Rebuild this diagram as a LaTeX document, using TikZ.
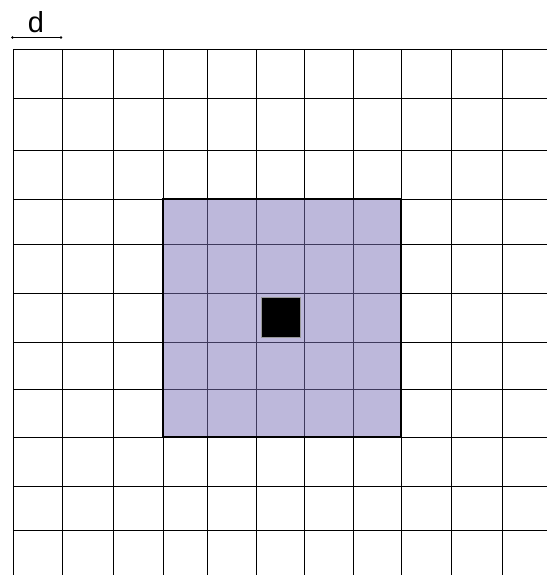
\documentclass[tikz,border=0pt]{standalone}
\usepackage{fontspec}
\setmainfont{Liberation Sans}
\usetikzlibrary{positioning}

\definecolor{cellpurple}{RGB}{125,115,185}

\begin{document}
\begin{tikzpicture}[x=1pt,y=-1pt]
\useasboundingbox[fill=white] (0,0) rectangle (547,575);
% grid
\foreach \gx in {13,62,113,163,207,256,304,353,401,451,502}
  \draw[black,line width=1pt] (\gx,50) -- (\gx,575);
\foreach \gy in {50,99,150,199,244,293,342,389,437,486,530}
  \draw[black,line width=1pt] (13,\gy) -- (547,\gy);
% window
\draw[fill=cellpurple,fill opacity=0.5,draw=none] (163,199) rectangle (401,437);
\draw[black,line width=2.6pt] (163,199) rectangle (401,437);
\draw[fill=black,draw=black!40,line width=0.6pt] (261,297) rectangle (300,337);

% scale bar
\coordinate (L) at (12.5,37.5);
\coordinate (R) at (61,37.5);
\draw[black,line width=1pt] (L) -- (R);
\fill[black] (L) circle (1.3pt);
\fill[black] (R) circle (1.3pt);
\node[font=\fontsize{29}{29}\selectfont,anchor=base,inner sep=0pt] (dlabel) at (36,33) {d};

\end{tikzpicture}
\end{document}
